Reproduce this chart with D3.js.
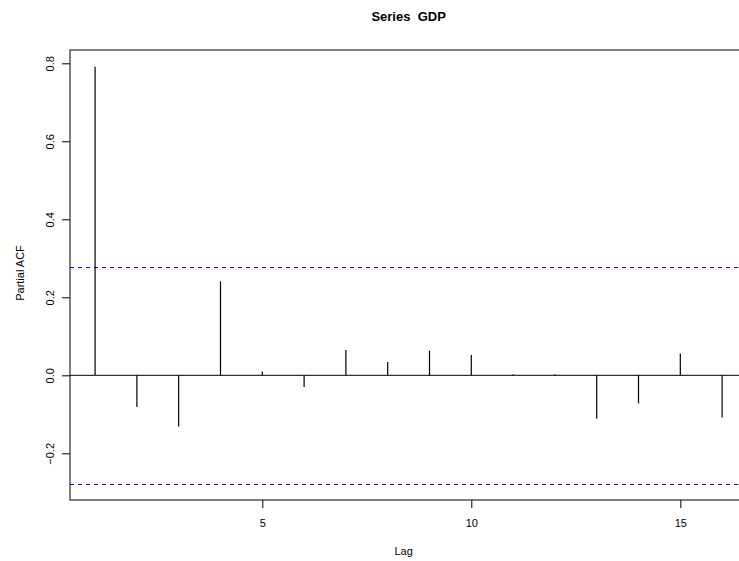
<!DOCTYPE html>
<html>
<head>
<meta charset="utf-8">
<script src="https://cdn.jsdelivr.net/npm/d3@7"></script>
<style>
  html, body { margin: 0; padding: 0; background: #fff; }
  svg { display: block; font-family: "Liberation Sans", Arial, Helvetica, sans-serif; }
</style>
</head>
<body>
<svg id="chart" width="739" height="561"></svg>
<script>
const lags = [1, 2, 3, 4, 5, 6, 7, 8, 9, 10, 11, 12, 13, 14, 15, 16]
const pacfValues = [0.791, -0.081, -0.131, 0.241, 0.010, -0.030, 0.065, 0.034, 0.063, 0.052, 0.003, 0.003, -0.111, -0.072, 0.056, -0.108]
const confLimit = 0.2775
const xTicks = [5, 10, 15]
const yTicks = [-0.2, 0, 0.2, 0.4, 0.6, 0.8]
const title = 'Series  GDP'
const xLabel = 'Lag'
const yLabel = 'Partial ACF'

const box = { left: 70, top: 50, right: 747.2, bottom: 500 } // plot region, right side runs past the window

const svg = d3.select('#chart')

const xScale = d3.scaleLinear() // R pads the lag range by 4% each side
  .domain([0.4, 16.6])
  .range([box.left, box.right])

const yScale = d3.scaleLinear()
  .domain([-0.3197, 0.8341])
  .range([box.bottom, box.top])

// frame
svg.append('rect')
  .attr('x', box.left)
  .attr('y', box.top)
  .attr('width', box.right - box.left)
  .attr('height', box.bottom - box.top)
  .attr('fill', 'none')
  .attr('stroke', '#000')
  .attr('stroke-width', 1)

// y axis
const yAxis = svg.append('g')
  .attr('transform', 'translate(' + box.left + ',0)')
  .call(d3.axisLeft(yScale).tickValues(yTicks).tickSize(8).tickFormat(d3.format('.1f')))
yAxis.select('.domain').remove()
yAxis.selectAll('text')
  .attr('x', null).attr('dy', null)
  .attr('transform', 'translate(-16.5,0) rotate(-90)')
  .attr('text-anchor', 'middle')
  .attr('font-size', 11)
  .attr('font-family', null)
  .attr('fill', '#000')

// x axis
const xAxis = svg.append('g')
  .attr('transform', 'translate(0,' + box.bottom + ')')
  .call(d3.axisBottom(xScale).tickValues(xTicks).tickSize(8))
xAxis.select('.domain').remove()
xAxis.selectAll('text')
  .attr('y', 27).attr('dy', null)
  .attr('font-size', 11)
  .attr('font-family', null)
  .attr('fill', '#000')

// confidence bounds, snapped to whole pixels so both lines look the same
svg.selectAll('.ci')
  .data([confLimit, -confLimit])
  .enter().append('line')
    .attr('class', 'ci')
    .attr('x1', box.left).attr('x2', box.right)
    .attr('y1', (d) => Math.round(yScale(d)) + 0.5).attr('y2', (d) => Math.round(yScale(d)) + 0.5)
    .attr('stroke', 'blue')
    .attr('stroke-width', 1)
    .attr('stroke-dasharray', '4,4')
    .attr('shape-rendering', 'crispEdges')

// zero line
svg.append('line')
  .attr('x1', box.left).attr('x2', box.right)
  .attr('y1', yScale(0)).attr('y2', yScale(0))
  .attr('stroke', '#000')
  .attr('stroke-width', 1)

// spikes
svg.selectAll('.spike')
  .data(lags.map((l, i) => ({ lag: l, v: pacfValues[i] })))
  .enter().append('line')
    .attr('class', 'spike')
    .attr('x1', (d) => xScale(d.lag)).attr('x2', (d) => xScale(d.lag))
    .attr('y1', yScale(0)).attr('y2', (d) => yScale(d.v))
    .attr('stroke', '#000')
    .attr('stroke-width', 1.2)

const midX = (box.left + box.right) / 2

svg.append('text')
  .attr('x', midX).attr('y', 20.7)
  .attr('text-anchor', 'middle')
  .attr('font-size', 13)
  .attr('font-weight', 'bold')
  .style('white-space', 'pre')
  .text(title)

svg.append('text')
  .attr('x', midX - 5).attr('y', 555)
  .attr('text-anchor', 'middle')
  .attr('font-size', 11)
  .text(xLabel)

svg.append('text')
  .attr('transform', 'translate(24,' + ((box.top + box.bottom) / 2 - 2) + ') rotate(-90)')
  .attr('text-anchor', 'middle')
  .attr('font-size', 11)
  .text(yLabel)
</script>
</body>
</html>
